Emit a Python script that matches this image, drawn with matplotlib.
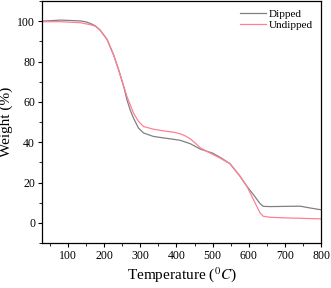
import matplotlib
matplotlib.use("Agg")
import matplotlib.pyplot as plt
from matplotlib.ticker import MultipleLocator

# values
dipped_temp = [30, 80, 134, 150, 162, 175, 189, 208, 226, 240, 254, 263, 272, 281, 295,
               309, 336, 355, 410, 438, 466, 500, 521, 548, 576, 595, 613, 631, 640,
               659, 700, 742, 770, 800]
dipped_weight = [100.1, 100.6, 100.2, 99.7, 98.9, 97.8, 95.6, 91.0, 83.3, 75.9, 67.6, 61.0,
                 56.0, 52.0, 47.0, 44.6, 42.9, 42.4, 41.0, 39.3, 36.6, 34.6, 32.5, 29.4,
                 23.1, 18.1, 14.0, 9.6, 8.2, 8.1, 8.2, 8.3, 7.4, 6.5]

undipped_temp = [30, 80, 134, 162, 175, 189, 208, 226, 240, 254, 263, 272, 281, 295, 309,
                 336, 355, 395, 412, 425, 438, 452, 466, 500, 521, 548, 576, 595, 613,
                 631, 640, 659, 700, 742, 800]
undipped_weight = [99.8, 99.8, 99.3, 98.3, 97.6, 95.5, 91.0, 83.3, 75.9, 67.8, 62.7, 58.6,
                   54.5, 50.3, 47.8, 46.5, 45.9, 44.9, 44.1, 43.1, 41.7, 39.6, 37.2, 34.0,
                   32.1, 29.3, 23.1, 18.1, 11.5, 5.0, 3.3, 2.8, 2.5, 2.3, 2.0]

plt.rcParams['font.family'] = ['Liberation Serif', 'DejaVu Serif']
plt.rcParams['mathtext.fontset'] = 'stix'

fig = plt.figure(figsize=(3.31, 2.88), dpi=100)
ax = fig.add_axes([0.127, 0.156, 0.843, 0.840])

ax.plot(dipped_temp, dipped_weight, color='#808080', lw=0.9, label='Dipped')
ax.plot(undipped_temp, undipped_weight, color='#ff8094', lw=0.9, label='Undipped')

ax.set_xlim(28, 800)
ax.set_ylim(-10, 110)
ax.xaxis.set_major_locator(MultipleLocator(100))
ax.xaxis.set_minor_locator(MultipleLocator(50))
ax.yaxis.set_major_locator(MultipleLocator(20))
ax.yaxis.set_minor_locator(MultipleLocator(10))
ax.tick_params(which='major', direction='out', length=3, width=0.8, labelsize=8.5, pad=2)
ax.tick_params(which='minor', direction='out', length=2, width=0.6)
for sp in ax.spines.values():
    sp.set_linewidth(0.9)

ax.set_xlabel('Temperature ($^0C$)', fontsize=11, labelpad=2)
ax.set_ylabel('Weight (%)', fontsize=11, labelpad=3)

ax.legend(loc='upper right', frameon=False, fontsize=8, handlelength=2.3,
          handletextpad=0.3, labelspacing=0.1, borderaxespad=0.3)

fig.savefig('out.png', dpi=100)
